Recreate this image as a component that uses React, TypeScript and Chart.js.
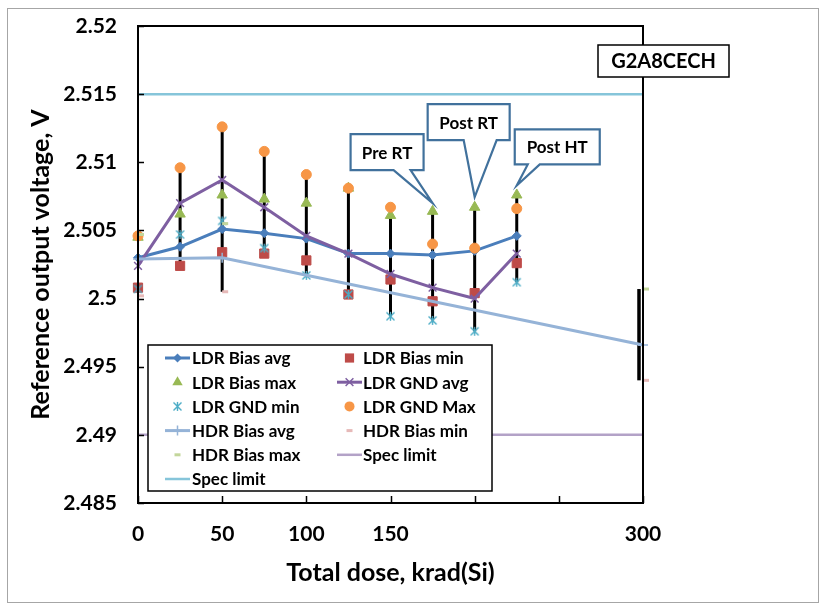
import React, { useEffect, useRef } from 'react';
import { Chart, registerables } from 'chart.js';

Chart.register(...registerables);

const FONT = "Lato, 'Open Sans', 'DejaVu Sans', sans-serif";

// ---- data ----
const doses = [0, 25, 50, 75, 100, 125, 150, 175, 200, 225];
const ldrBiasAvg = [2.5030, 2.5038, 2.5051, 2.5048, 2.5044, 2.5033, 2.5033, 2.5032, 2.5035, 2.5046];
const ldrBiasMin = [2.5008, 2.5024, 2.5034, 2.5033, 2.5028, 2.5003, 2.5014, 2.4998, 2.5004, 2.5026];
const ldrBiasMax = [2.5045, 2.5062, 2.5076, 2.5073, 2.5070, 2.5081, 2.5061, 2.5064, 2.5067, 2.5076];
const ldrGndAvg = [2.5024, 2.5070, 2.5087, 2.5067, 2.5046, 2.5033, 2.5018, 2.5008, 2.5000, 2.5033];
const ldrGndMin = [2.5007, 2.5047, 2.5057, 2.5037, 2.5017, 2.5003, 2.4987, 2.4984, 2.4976, 2.5012];
const ldrGndMax = [2.5046, 2.5096, 2.5126, 2.5108, 2.5091, 2.5081, 2.5067, 2.5040, 2.5037, 2.5066];
const hdrDoses = [0, 50, 300];
const hdrBiasAvg = [2.5029, 2.5030, 2.4966];
const hdrBiasMin = [2.5002, 2.5005, 2.4940];
const hdrBiasMax = [2.5047, 2.5055, 2.5007];
const specDoses = [0, 300];
const specLower = [2.49, 2.49];
const specUpper = [2.515, 2.515];
const errorBarDoses = [25, 50, 75, 100, 125, 150, 175, 200, 225, 300];
const hiddenXTicks = [200, 250];
const callouts = [
  { text: 'Pre RT', dose: 175, value: 2.5070 },
  { text: 'Post RT', dose: 200, value: 2.50745 },
  { text: 'Post HT', dose: 225, value: 2.5083 },
];
const partLabel = 'G2A8CECH';

// callout geometry (pixel offsets from the tip)
const calloutShapes = [
  { l: -82, r: -9, t: -69, b: -33, b1: -39, b2: -22 },
  { l: -47, r: 35, t: -93, b: -57, b1: -11, b2: 22 },
  { l: -2, r: 83, t: -56, b: -21, b1: 11, b2: 23 },
];

const pts = (xs: number[], ys: number[]) => xs.map((x, i) => ({ x, y: ys[i] }));

function makeStar(color: string) {
  const c = document.createElement('canvas');
  c.width = 11;
  c.height = 11;
  const g = c.getContext('2d') as CanvasRenderingContext2D;
  g.strokeStyle = color;
  g.lineWidth = 1.4;
  g.beginPath();
  g.moveTo(1.5, 1.5); g.lineTo(9.5, 9.5);
  g.moveTo(9.5, 1.5); g.lineTo(1.5, 9.5);
  g.moveTo(5.5, 1); g.lineTo(5.5, 10);
  g.stroke();
  return c;
}

function drawMarker(ctx: CanvasRenderingContext2D, style: any, x: number, y: number, r: number, color: string, lw: number) {
  ctx.save();
  ctx.fillStyle = color;
  ctx.strokeStyle = color;
  ctx.lineWidth = lw;
  if (typeof style !== 'string') {
    ctx.drawImage(style, x - style.width / 2, y - style.height / 2);
    ctx.restore();
    return;
  }
  ctx.beginPath();
  switch (style) {
    case 'circle':
      ctx.arc(x, y, r, 0, Math.PI * 2); ctx.fill(); break;
    case 'rect': {
      const s = r * Math.SQRT1_2; ctx.fillRect(x - s, y - s, 2 * s, 2 * s); break;
    }
    case 'rectRot':
      ctx.moveTo(x - r, y); ctx.lineTo(x, y - r); ctx.lineTo(x + r, y); ctx.lineTo(x, y + r);
      ctx.closePath(); ctx.fill(); break;
    case 'triangle': {
      const a = (2 * Math.PI) / 3;
      ctx.moveTo(x, y - r);
      ctx.lineTo(x + r * Math.sin(a), y - r * Math.cos(a));
      ctx.lineTo(x + r * Math.sin(2 * a), y - r * Math.cos(2 * a));
      ctx.closePath(); ctx.fill(); break;
    }
    case 'crossRot': {
      const o = r * Math.SQRT1_2;
      ctx.moveTo(x - o, y - o); ctx.lineTo(x + o, y + o);
      ctx.moveTo(x + o, y - o); ctx.lineTo(x - o, y + o);
      ctx.stroke(); break;
    }
    case 'cross':
      ctx.moveTo(x - r, y); ctx.lineTo(x + r, y); ctx.moveTo(x, y - r); ctx.lineTo(x, y + r);
      ctx.stroke(); break;
    case 'dash':
      ctx.moveTo(x - r / 2, y); ctx.lineTo(x + r / 2, y); ctx.stroke(); break;
    default:
      break;
  }
  ctx.restore();
}

const decorPlugin = {
  id: 'decor',
  beforeDraw(chart: any) {
    const ctx = chart.ctx;
    ctx.save();
    ctx.fillStyle = '#fff';
    ctx.fillRect(0, 0, chart.width, chart.height);
    ctx.strokeStyle = '#a6a6a6';
    ctx.lineWidth = 1;
    ctx.strokeRect(7.5, 8.5, 811, 594);
    ctx.restore();
  },
  beforeDatasetsDraw(chart: any) {
    const ctx = chart.ctx;
    const xs = chart.scales.x;
    const ys = chart.scales.y;
    const ldr = [ldrBiasAvg, ldrBiasMin, ldrBiasMax, ldrGndAvg, ldrGndMin, ldrGndMax];
    const hdr = [hdrBiasAvg, hdrBiasMin, hdrBiasMax];
    ctx.save();
    ctx.strokeStyle = '#000';
    errorBarDoses.forEach((d) => {
      const vals: number[] = [];
      const i = doses.indexOf(d);
      if (i >= 0) ldr.forEach((s) => vals.push(s[i]));
      const j = hdrDoses.indexOf(d);
      if (j >= 0) hdr.forEach((s) => vals.push(s[j]));
      if (!vals.length) return;
      const hi = Math.max(...vals);
      const lo = Math.min(...vals);
      const atEdge = d === xs.max;
      const px = xs.getPixelForValue(d) - (atEdge ? 4 : 0);
      ctx.lineWidth = atEdge ? 3.5 : 3;
      ctx.beginPath();
      ctx.moveTo(px, ys.getPixelForValue(hi));
      ctx.lineTo(px, ys.getPixelForValue(lo));
      ctx.stroke();
    });
    ctx.restore();
  },
  afterDraw(chart: any) {
    const ctx = chart.ctx;
    const a = chart.chartArea;
    const xs = chart.scales.x;
    const ys = chart.scales.y;
    ctx.save();
    // plot frame
    ctx.strokeStyle = '#000';
    ctx.lineWidth = 2;
    ctx.strokeRect(a.left, a.top, a.right - a.left, a.bottom - a.top);
    // inward tick marks
    ctx.lineWidth = 1.5;
    ctx.beginPath();
    ys.ticks.forEach((t: any) => {
      const py = Math.round(ys.getPixelForValue(t.value)) + 0.5;
      ctx.moveTo(a.left, py); ctx.lineTo(a.left + 6, py);
    });
    xs.ticks.forEach((t: any) => {
      const px = Math.round(xs.getPixelForValue(t.value)) + 0.5;
      ctx.moveTo(px, a.bottom); ctx.lineTo(px, a.bottom - 7);
    });
    ctx.stroke();

    // legend
    const lx = a.left + 10;
    const ly = a.bottom - 158;
    const lw = 344;
    const lh = 146;
    ctx.fillStyle = '#fff';
    ctx.fillRect(lx, ly, lw, lh);
    ctx.strokeStyle = '#000';
    ctx.lineWidth = 1.5;
    ctx.strokeRect(lx, ly, lw, lh);
    ctx.font = `bold 17px ${FONT}`;
    ctx.textBaseline = 'middle';
    ctx.textAlign = 'left';
    chart.data.datasets.forEach((ds: any, i: number) => {
      const col = i % 2;
      const row = Math.floor(i / 2);
      const sx = lx + (col === 0 ? 17 : 189);
      const tx = lx + (col === 0 ? 44 : 215);
      const cy = ly + 13 + row * 24.2;
      if (ds.showLine) {
        ctx.save();
        ctx.strokeStyle = ds.borderColor;
        ctx.lineWidth = ds.borderWidth;
        ctx.beginPath();
        ctx.moveTo(sx, cy); ctx.lineTo(sx + 25, cy);
        ctx.stroke();
        ctx.restore();
      }
      if (ds.pointRadius > 0) {
        drawMarker(ctx, ds.pointStyle, sx + 12.5, cy, ds.pointRadius, ds.pointBackgroundColor, ds.pointBorderWidth);
      }
      ctx.fillStyle = '#000';
      ctx.fillText(ds.label, tx, cy + 1);
    });

    // callouts
    ctx.font = `bold 17px ${FONT}`;
    ctx.textAlign = 'center';
    callouts.forEach((c, i) => {
      const g = calloutShapes[i];
      const tx = xs.getPixelForValue(c.dose);
      const ty = ys.getPixelForValue(c.value);
      const L = tx + g.l, R = tx + g.r, T = ty + g.t, B = ty + g.b;
      ctx.beginPath();
      ctx.moveTo(L, T);
      ctx.lineTo(R, T);
      ctx.lineTo(R, B);
      ctx.lineTo(tx + g.b2, B);
      ctx.lineTo(tx, ty);
      ctx.lineTo(tx + g.b1, B);
      ctx.lineTo(L, B);
      ctx.closePath();
      ctx.fillStyle = '#fff';
      ctx.fill();
      ctx.strokeStyle = '#41719c';
      ctx.lineWidth = 2.2;
      ctx.lineJoin = 'miter';
      ctx.stroke();
      ctx.fillStyle = '#000';
      ctx.fillText(c.text, (L + R) / 2, (T + B) / 2 + 1);
    });

    // part label box
    const bx = a.right - 45;
    const by = a.top + 19;
    ctx.fillStyle = '#fff';
    ctx.fillRect(bx, by, 131, 32);
    ctx.strokeStyle = '#000';
    ctx.lineWidth = 1.5;
    ctx.strokeRect(bx, by, 131, 32);
    ctx.fillStyle = '#000';
    ctx.font = `bold 20px ${FONT}`;
    ctx.fillText(partLabel, bx + 65.5, by + 17);
    ctx.restore();
  },
};

export default function App() {
  const ref = useRef<HTMLCanvasElement | null>(null);

  useEffect(() => {
    const canvas = ref.current;
    if (!canvas) return;
    const star = makeStar('#4bacc6');
    const base = { clip: false as any, pointBorderWidth: 1 };
    const datasets: any[] = [
      { ...base, label: 'LDR Bias avg', data: pts(doses, ldrBiasAvg), showLine: true, borderColor: '#4a7ebb', borderWidth: 3, pointStyle: 'rectRot', pointRadius: 4.5, pointBackgroundColor: '#4a7ebb', pointBorderColor: '#4a7ebb' },
      { ...base, label: 'LDR Bias min', data: pts(doses, ldrBiasMin), showLine: false, borderColor: '#be4b48', pointStyle: 'rect', pointRadius: 6.5, pointBackgroundColor: '#be4b48', pointBorderColor: '#be4b48' },
      { ...base, label: 'LDR Bias max', data: pts(doses, ldrBiasMax), showLine: false, borderColor: '#98b954', pointStyle: 'triangle', pointRadius: 6, pointBackgroundColor: '#98b954', pointBorderColor: '#98b954' },
      { ...base, label: 'LDR GND avg', data: pts(doses, ldrGndAvg), showLine: true, borderColor: '#7e5fa1', borderWidth: 3, pointStyle: 'crossRot', pointRadius: 5.5, pointBorderWidth: 1.5, pointBackgroundColor: '#7e5fa1', pointBorderColor: '#7e5fa1' },
      { ...base, label: 'LDR GND min', data: pts(doses, ldrGndMin), showLine: false, borderColor: '#4bacc6', pointStyle: star, pointRadius: 5, pointBackgroundColor: '#4bacc6', pointBorderColor: '#4bacc6' },
      { ...base, label: 'LDR GND Max', data: pts(doses, ldrGndMax), showLine: false, borderColor: '#f79646', pointStyle: 'circle', pointRadius: 5, pointBackgroundColor: '#f79646', pointBorderColor: '#f79646' },
      { ...base, label: 'HDR Bias avg', data: pts(hdrDoses, hdrBiasAvg), showLine: true, borderColor: '#95b3d7', borderWidth: 3, pointStyle: 'cross', pointRadius: 5, pointBorderWidth: 1.5, pointBackgroundColor: '#95b3d7', pointBorderColor: '#95b3d7' },
      { ...base, label: 'HDR Bias min', data: pts(hdrDoses, hdrBiasMin), showLine: false, borderColor: '#e6b9b8', pointStyle: 'dash', pointRadius: 6, pointBorderWidth: 3, pointBackgroundColor: '#e6b9b8', pointBorderColor: '#e6b9b8' },
      { ...base, label: 'HDR Bias max', data: pts(hdrDoses, hdrBiasMax), showLine: false, borderColor: '#c3d69b', pointStyle: 'dash', pointRadius: 6, pointBorderWidth: 3, pointBackgroundColor: '#c3d69b', pointBorderColor: '#c3d69b' },
      { ...base, label: 'Spec limit', data: pts(specDoses, specLower), showLine: true, borderColor: '#b3a2c7', borderWidth: 2.5, pointRadius: 0, pointBackgroundColor: '#b3a2c7' },
      { ...base, label: 'Spec limit', data: pts(specDoses, specUpper), showLine: true, borderColor: '#86c5da', borderWidth: 2.5, pointRadius: 0, pointBackgroundColor: '#86c5da' },
    ];
    // later series drawn on top (like the original)
    datasets.forEach((d, i) => { d.order = 20 - i; });

    const tickFont = { family: FONT, size: 21, weight: 'bold' as const };
    const titleFont = { family: FONT, size: 25, weight: 'bold' as const };

    const chart = new Chart(canvas, {
      type: 'scatter',
      data: { datasets },
      options: {
        animation: false,
        responsive: false,
        events: [],
        layout: { padding: { left: 8, top: 26, right: 177, bottom: 12 } },
        plugins: { legend: { display: false }, tooltip: { enabled: false } },
        scales: {
          x: {
            type: 'linear',
            position: 'bottom',
            min: 0,
            max: 300,
            afterFit: (s: any) => { s.height = 90; },
            grid: { display: false, drawTicks: true, tickLength: 19 },
            border: { display: false },
            ticks: {
              stepSize: 50,
              autoSkip: false,
              maxRotation: 0,
              padding: 0,
              color: '#000',
              font: tickFont,
              callback: (v: any) => (hiddenXTicks.includes(Number(v)) ? '' : String(v)),
            },
            title: { display: true, text: 'Total dose, krad(Si)', color: '#000', font: titleFont, padding: { top: 0, bottom: 5 } },
          },
          y: {
            type: 'linear',
            position: 'left',
            min: 2.485,
            max: 2.52,
            afterFit: (s: any) => { s.width = 130; },
            grid: { display: false, drawTicks: true, tickLength: 21 },
            border: { display: false },
            ticks: {
              stepSize: 0.005,
              padding: 0,
              color: '#000',
              font: tickFont,
              callback: (v: any) => String(Number(Number(v).toFixed(3))),
            },
            title: { display: true, text: 'Reference output voltage, V', color: '#000', font: titleFont, padding: { top: 18, bottom: 0 } },
          },
        },
      } as any,
      plugins: [decorPlugin],
    });
    return () => chart.destroy();
  }, []);

  return (
    <div style={{ position: 'absolute', left: 0, top: 0, width: 820, height: 605 }}>
      <canvas ref={ref} width={820} height={605} style={{ display: 'block', width: 820, height: 605 }} />
    </div>
  );
}
